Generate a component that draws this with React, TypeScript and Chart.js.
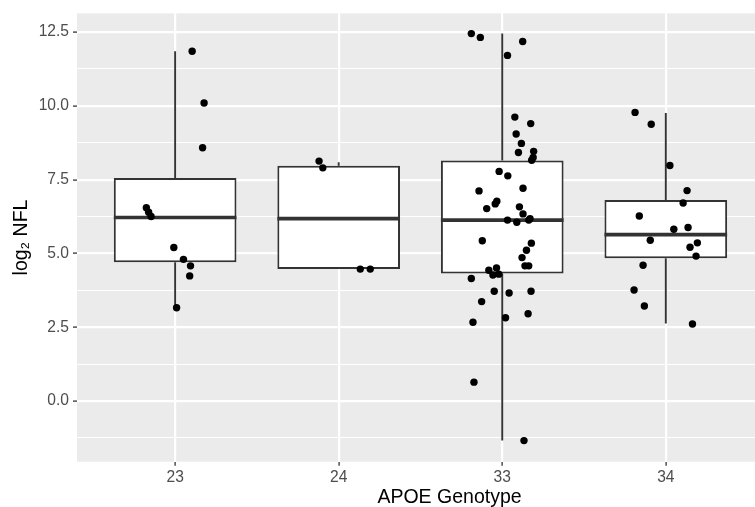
import React, { useEffect, useRef } from 'react';
import { Chart, registerables } from 'chart.js';

Chart.register(...registerables);

// ---- data ----
const genotypes = ['23', '24', '33', '34'];

const boxQ1 = [4.70, 4.47, 4.32, 4.84];
const boxMedian = [6.22, 6.18, 6.13, 5.64];
const boxQ3 = [7.56, 7.97, 8.15, 6.81];
const whiskerLow = [3.16, 4.47, -1.34, 2.63];
const whiskerHigh = [11.85, 8.09, 12.45, 9.76];

const nfl23 = [11.85, 10.10, 8.58, 6.55, 6.40, 6.25, 5.20, 4.80, 4.58, 4.24, 3.16];
const jitter23 = [0.104, 0.177, 0.168, -0.176, -0.162, -0.147, -0.008, 0.051, 0.094, 0.089, 0.009];

const nfl24 = [8.13, 7.90, 4.47, 4.47];
const jitter24 = [-0.120, -0.097, 0.132, 0.193];

const nfl33 = [
  12.45, 12.32, 12.18, 11.71, 9.62, 9.40, 9.05, 8.73, 8.42, 8.46, 8.25, 8.16,
  7.78, 7.63, 7.21, 7.12, 6.77, 6.68, 6.58, 6.52, 6.34, 6.18, 6.13, 6.13, 6.06,
  5.43, 5.35, 5.11, 4.86, 4.58, 4.58, 4.51, 4.43, 4.30, 4.27, 4.15, 3.72, 3.66,
  3.72, 3.37, 2.96, 2.82, 2.67, 0.64, -1.34,
];
const jitter33 = [
  -0.189, -0.134, 0.125, 0.032, 0.077, 0.174, 0.085, 0.117, 0.099, 0.192, 0.189, 0.180,
  -0.019, 0.034, 0.127, -0.142, -0.033, -0.043, 0.105, -0.095, 0.127, 0.170, 0.162, 0.032, 0.089,
  -0.122, 0.178, 0.148, 0.121, 0.139, 0.162, -0.035, -0.082, -0.021, -0.057, -0.189, -0.049, 0.042,
  0.176, -0.126, 0.158, 0.020, -0.179, -0.173, 0.133,
];

const nfl34 = [9.78, 9.38, 7.98, 7.13, 6.71, 6.27, 5.82, 5.88, 5.45, 5.36, 5.21, 4.91, 4.60, 3.76, 3.22, 2.61];
const jitter34 = [-0.188, -0.089, 0.025, 0.130, 0.106, -0.162, 0.049, 0.136, -0.095, 0.193, 0.148, 0.185, -0.139, -0.194, -0.131, 0.163];

const groupValues = [nfl23, nfl24, nfl33, nfl34];
const groupJitter = [jitter23, jitter24, jitter33, jitter34];

const yMajorTicks = [0, 2.5, 5, 7.5, 10, 12.5];
const yMinorTicks = [-1.25, 1.25, 3.75, 6.25, 8.75, 11.25];

const xTitle = 'APOE Genotype';
const yTitle = 'log₂ NFL';

// ---- plugins ----
const panelBackground = {
  id: 'panelBackground',
  beforeDraw(chart: any) {
    const { ctx, chartArea } = chart;
    ctx.save();
    ctx.fillStyle = '#EBEBEB';
    ctx.fillRect(chartArea.left, chartArea.top, chartArea.right - chartArea.left, chartArea.bottom - chartArea.top);
    ctx.restore();
  },
};

const boxExtras = {
  id: 'boxExtras',
  afterDatasetDraw(chart: any, args: any) {
    if (args.index !== 0) return;
    const { ctx } = chart;
    const yScale = chart.scales.y;
    const meta = chart.getDatasetMeta(0);
    ctx.save();
    ctx.strokeStyle = '#333333';
    meta.data.forEach((bar: any, i: number) => {
      const { x, width } = bar.getProps(['x', 'width'], true);
      const pQ1 = yScale.getPixelForValue(boxQ1[i]);
      const pQ3 = yScale.getPixelForValue(boxQ3[i]);
      const pLo = yScale.getPixelForValue(whiskerLow[i]);
      const pHi = yScale.getPixelForValue(whiskerHigh[i]);
      const pMed = yScale.getPixelForValue(boxMedian[i]);
      ctx.lineWidth = 1.9;
      ctx.beginPath();
      ctx.moveTo(x, pQ3);
      ctx.lineTo(x, pHi);
      ctx.moveTo(x, pQ1);
      ctx.lineTo(x, pLo);
      ctx.stroke();
      ctx.lineWidth = 3.6;
      ctx.beginPath();
      ctx.moveTo(x - width / 2, pMed);
      ctx.lineTo(x + width / 2, pMed);
      ctx.stroke();
    });
    ctx.restore();
  },
};

export default function App() {
  const canvasRef = useRef<HTMLCanvasElement | null>(null);

  useEffect(() => {
    document.body.style.margin = '0';
    const canvas = canvasRef.current;
    if (!canvas) return;

    const boxData = genotypes.map((_, i) => ({ x: i + 1, y: [boxQ1[i], boxQ3[i]] }));
    const pointData = groupValues.flatMap((vals, g) =>
      vals.map((v, i) => ({ x: g + 1 + groupJitter[g][i], y: v }))
    );

    const font = 'Liberation Sans';
    const isMajor = (v: number) => yMajorTicks.some((m) => Math.abs(m - v) < 1e-6);

    const chart = new Chart(canvas, {
      type: 'bar',
      data: {
        datasets: [
          {
            type: 'bar',
            data: boxData as any,
            backgroundColor: '#FFFFFF',
            borderColor: '#333333',
            borderWidth: 2,
            borderSkipped: false,
            barPercentage: 1,
            categoryPercentage: 0.75,
            order: 2,
          } as any,
          {
            type: 'scatter',
            data: pointData,
            backgroundColor: '#000000',
            borderWidth: 0,
            pointRadius: 3.7,
            order: 1,
          } as any,
        ],
      },
      options: {
        responsive: false,
        animation: false,
        layout: { padding: { top: 13, left: 0, right: 0, bottom: 0 } },
        plugins: {
          legend: { display: false },
          tooltip: { enabled: false },
        },
        scales: {
          x: {
            type: 'linear',
            min: 0.4,
            max: 4.955,
            offset: false,
            afterBuildTicks: (scale: any) => {
              scale.ticks = genotypes.map((_, i) => ({ value: i + 1 }));
            },
            afterFit: (scale: any) => {
              scale.height = 45.3;
            },
            ticks: {
              autoSkip: false,
              maxRotation: 0,
              padding: 3,
              color: '#4D4D4D',
              font: { family: font, size: 15.6 },
              callback: (value: any) => genotypes[Math.round(Number(value)) - 1] ?? '',
            },
            grid: {
              offset: false,
              color: '#FFFFFF',
              lineWidth: 2.2,
              drawTicks: true,
              tickLength: 4,
              tickColor: '#333333',
              tickWidth: 1.3,
            },
            border: { display: false },
            title: {
              display: true,
              text: xTitle,
              color: '#000000',
              font: { family: font, size: 19.5, lineHeight: 1 },
              padding: { top: 0, bottom: 0 },
            },
          },
          y: {
            type: 'linear',
            min: -2.055,
            max: 13.135,
            afterBuildTicks: (scale: any) => {
              scale.ticks = [...yMinorTicks, ...yMajorTicks]
                .sort((a, b) => a - b)
                .map((v) => ({ value: v }));
            },
            afterFit: (scale: any) => {
              scale.width = 77;
            },
            ticks: {
              autoSkip: false,
              padding: 4,
              color: '#4D4D4D',
              font: { family: font, size: 15.6 },
              callback: (value: any) => (isMajor(Number(value)) ? Number(value).toFixed(1) : ''),
            },
            grid: {
              color: '#FFFFFF',
              lineWidth: (ctx: any) => (isMajor(ctx.tick?.value ?? 0) ? 2.2 : 1.1),
              drawTicks: true,
              tickLength: 4,
              tickColor: (ctx: any) => (isMajor(ctx.tick?.value ?? 0) ? '#333333' : 'rgba(0,0,0,0)'),
              tickWidth: 1.3,
            },
            border: { display: false },
            title: {
              display: true,
              text: yTitle,
              color: '#000000',
              font: { family: font, size: 19.5, lineHeight: 1 },
              padding: { top: 12, bottom: 0 },
            },
          },
        },
      } as any,
      plugins: [panelBackground, boxExtras],
    });

    return () => chart.destroy();
  }, []);

  return (
    <div style={{ width: 755, height: 507, overflow: 'hidden', position: 'relative' }}>
      <canvas ref={canvasRef} width={826} height={507} style={{ display: 'block' }} />
    </div>
  );
}
